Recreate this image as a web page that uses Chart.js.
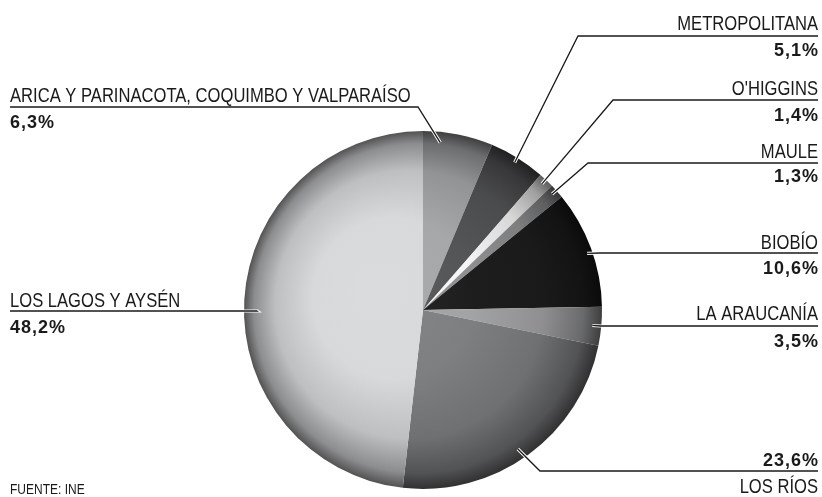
<!DOCTYPE html>
<html lang="es">
<head>
<meta charset="UTF-8">
<script src="https://cdn.jsdelivr.net/npm/chart.js@4.4.1/dist/chart.umd.min.js"></script>
<title>Regiones</title>
<style>
  html, body { margin: 0; padding: 0; background: #fff; }
  #wrap { width: 822px; height: 497px; position: relative; }
</style>
</head>
<body>
<div id="wrap"><canvas id="myChart"></canvas></div>
<script>
// data, clockwise from 12 o'clock
var regions = ['ARICA Y PARINACOTA, COQUIMBO Y VALPARAÍSO', 'METROPOLITANA', "O'HIGGINS", 'MAULE',
               'BIOBÍO', 'LA ARAUCANÍA', 'LOS RÍOS', 'LOS LAGOS Y AYSÉN'];
var shares = [6.3, 5.1, 1.4, 1.3, 10.6, 3.5, 23.6, 48.2];
var shareLabels = ['6,3%', '5,1%', '1,4%', '1,3%', '10,6%', '3,5%', '23,6%', '48,2%'];
var sliceGreys = ['#a6a7a9', '#545557', '#f4f4f4', '#8e8f91', '#1d1d1d', '#a2a3a5', '#7e7f81', '#d8d9db'];

// where the callouts sit (layout only)
var callouts = [
  { side: 'left',  x: 10,  lineY: 107, nameY: 102, pctY: 128, knee: 418, frac: 0.26, rf: 0.94 },
  { side: 'right', x: 818, lineY: 36,  nameY: 30,  pctY: 56,  knee: 578, frac: 0.5,  rf: 0.97 },
  { side: 'right', x: 818, lineY: 100, nameY: 95,  pctY: 121, knee: 613, frac: 0.45, rf: 0.97 },
  { side: 'right', x: 818, lineY: 163, nameY: 158, pctY: 182, knee: 588, frac: 0.42, rf: 0.97 },
  { side: 'right', x: 818, lineY: 253, nameY: 249, pctY: 274, knee: 600, frac: 0.53, rf: 0.97 },
  { side: 'right', x: 818, lineY: 326, nameY: 320, pctY: 347, knee: 600, frac: 0.5,  rf: 0.95 },
  { side: 'right', x: 818, lineY: 471, nameY: 493, pctY: 466, knee: 540, frac: 0.52, rf: 0.94 },
  { side: 'left',  x: 10,  lineY: 311, nameY: 307, pctY: 333, knee: 257, frac: 0.48, rf: 0.93 }
];

var nameFont = '21px "Liberation Sans", Arimo, sans-serif';
var nameSqueeze = 0.79;
var pctFont = 'bold 18px "Liberation Sans", Arimo, sans-serif';

function shade(hex, f) {
  var n = parseInt(hex.slice(1), 16);
  var r = (n >> 16) & 255, g = (n >> 8) & 255, b = n & 255;
  function c(v) { return Math.max(0, Math.min(255, Math.round(f >= 0 ? v + (255 - v) * f : v * (1 + f)))); }
  return 'rgb(' + c(r) + ',' + c(g) + ',' + c(b) + ')';
}

function sliceFill(context) {
  var chart = context.chart;
  var area = chart.chartArea;
  var base = sliceGreys[context.dataIndex];
  if (!area) return base;
  var cx = (area.left + area.right) / 2, cy = (area.top + area.bottom) / 2;
  var r = Math.min(area.right - area.left, area.bottom - area.top) / 2;
  var g = chart.ctx.createRadialGradient(cx - r * 0.3, cy - r * 0.12, 0, cx, cy, r);
  g.addColorStop(0, shade(base, 0.06));
  g.addColorStop(0.45, base);
  g.addColorStop(0.75, shade(base, -0.12));
  g.addColorStop(0.92, shade(base, -0.35));
  g.addColorStop(1, shade(base, -0.62));
  return g;
}

function drawSqueezed(ctx, text, x, y, align) {
  ctx.save();
  ctx.translate(x, y);
  ctx.scale(nameSqueeze, 1);
  ctx.textAlign = align;
  ctx.fillText(text, 0, 0);
  ctx.restore();
}

var calloutPlugin = {
  id: 'callouts',
  afterDraw: function (chart) {
    var ctx = chart.ctx;
    var arcs = chart.getDatasetMeta(0).data;
    ctx.save();
    arcs.forEach(function (arc, i) {
      var c = callouts[i];
      var p = arc.getProps(['x', 'y', 'startAngle', 'endAngle', 'outerRadius'], true);
      var a = p.startAngle + c.frac * (p.endAngle - p.startAngle);
      var px = p.x + Math.cos(a) * p.outerRadius * c.rf;
      var py = p.y + Math.sin(a) * p.outerRadius * c.rf;
      ctx.beginPath();
      ctx.moveTo(c.x, c.lineY);
      ctx.lineTo(c.knee, c.lineY);
      ctx.lineTo(px, py);
      ctx.lineJoin = 'miter';
      ctx.strokeStyle = '#ffffff';
      ctx.lineWidth = 3.2;
      ctx.stroke();
      ctx.strokeStyle = '#1a1a1a';
      ctx.lineWidth = 1.3;
      ctx.stroke();

      var align = c.side === 'left' ? 'left' : 'right';
      ctx.fillStyle = '#1a1a1a';
      ctx.textBaseline = 'alphabetic';
      ctx.font = nameFont;
      drawSqueezed(ctx, regions[i], c.x, c.nameY, align);
      ctx.font = pctFont;
      ctx.letterSpacing = '1px';
      ctx.textAlign = align;
      ctx.fillText(shareLabels[i], c.side === 'left' ? c.x : c.x + 1, c.pctY);
      ctx.letterSpacing = '0px';
    });
    ctx.font = '15px "Liberation Sans", Arimo, sans-serif';
    ctx.fillStyle = '#1a1a1a';
    ctx.save();
    ctx.translate(10, 494);
    ctx.scale(0.8, 1);
    ctx.textAlign = 'left';
    ctx.fillText('FUENTE: INE', 0, 0);
    ctx.restore();
    ctx.restore();
  }
};

var ctx = document.getElementById('myChart').getContext('2d');
var chart = new Chart(ctx, {
  type: 'pie',
  data: {
    labels: regions,
    datasets: [{
      data: shares,
      backgroundColor: sliceFill,
      borderWidth: 0
    }]
  },
  options: {
    responsive: true,
    maintainAspectRatio: false,
    animation: false,
    layout: { padding: { left: 244, right: 220, top: 131, bottom: 8 } },
    plugins: {
      legend: { display: false },
      tooltip: { enabled: false }
    }
  },
  plugins: [calloutPlugin]
});
</script>
</body>
</html>
